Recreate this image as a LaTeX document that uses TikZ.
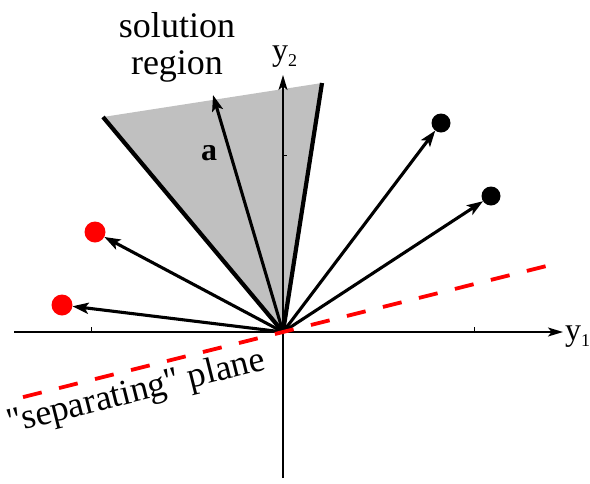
\documentclass[tikz,border=0pt]{standalone}
\usepackage{fontspec}
\setmainfont{Liberation Serif}
\newfontfamily\figfont{Liberation Serif}
\usetikzlibrary{arrows.meta}
\definecolor{regiongray}{RGB}{192,192,192}
\begin{document}
\begin{tikzpicture}[x=1pt,y=-1pt,
  vec/.style={line width=3.1pt,-{Stealth[length=16pt,width=11pt,inset=3.5pt]}},
  axis/.style={line width=1.4pt,-{Stealth[length=15pt,width=9pt,inset=3.5pt]}},
  tick/.style={line width=1pt},
  regionedge/.style={line width=4.2pt},
  bdot/.style={circle,fill=black,minimum size=19pt,inner sep=0pt,outer sep=0pt},
  rdot/.style={circle,fill=red,minimum size=21pt,inner sep=0pt,outer sep=0pt},
  lbl/.style={font=\figfont\fontsize{36}{37}\selectfont,inner sep=0pt},
  axlbl/.style={font=\figfont\fontsize{32}{34}\selectfont,inner sep=0pt,anchor=base west},
  sepline/.style={red,line width=3.8pt,dash pattern=on 19.3pt off 17.8pt},
]
\useasboundingbox (0,0) rectangle (590,483);
% key points
\coordinate (O) at (283,332);
\coordinate (L) at (103,117);
\coordinate (R) at (322,83);
\coordinate (A) at (213,95);
\coordinate (X0) at (14,332);
\coordinate (X1) at (563,332);
\coordinate (Y0) at (283,478);
\coordinate (Y1) at (283,75);
\coordinate (D0) at (23,397.1);
\coordinate (D1) at (546,266.1);
% solution region
\fill[regiongray] (O) -- (L) -- (R) -- cycle;
% axes
\draw[axis] (X0) -- (X1);
\draw[axis] (Y0) -- (Y1);
\draw[tick] (91,332) -- (91,327);
\draw[tick] (474,332) -- (474,327);
\draw[tick] (283,155) -- (287,155);
% region edges
\draw[regionedge] (L) -- (O);
\draw[regionedge] (R) -- (O);
% sample points
\node[bdot] (b1) at (441,123) {};
\node[bdot] (b2) at (491,196) {};
\node[rdot] (r1) at (95,232) {};
\node[rdot] (r2) at (62,305) {};
% vectors
\draw[vec] (O) -- (A);
\draw[vec] (O) -- (b1);
\draw[vec] (O) -- (b2);
\draw[vec] (O) -- (r1);
\draw[vec] (O) -- (r2);
% separating plane
\draw[sepline] (D0) -- (D1);
% labels
\node[lbl,anchor=north,align=center] (sol) at (177,12) {solution\\region};
\node[font=\figfont\bfseries\fontsize{32}{32}\selectfont,inner sep=0pt] (alab) at (209,153) {a};
\node[axlbl] (y2lab) at (272,60) {y\raisebox{-6pt}{\fontsize{18}{18}\selectfont 2}};
\node[axlbl] (y1lab) at (565,340) {y\raisebox{-6pt}{\fontsize{18}{18}\selectfont 1}};
\node[lbl,rotate=14.06,anchor=base west] (seplab) at (10,433.5) {"separating" plane};
\end{tikzpicture}
\end{document}
